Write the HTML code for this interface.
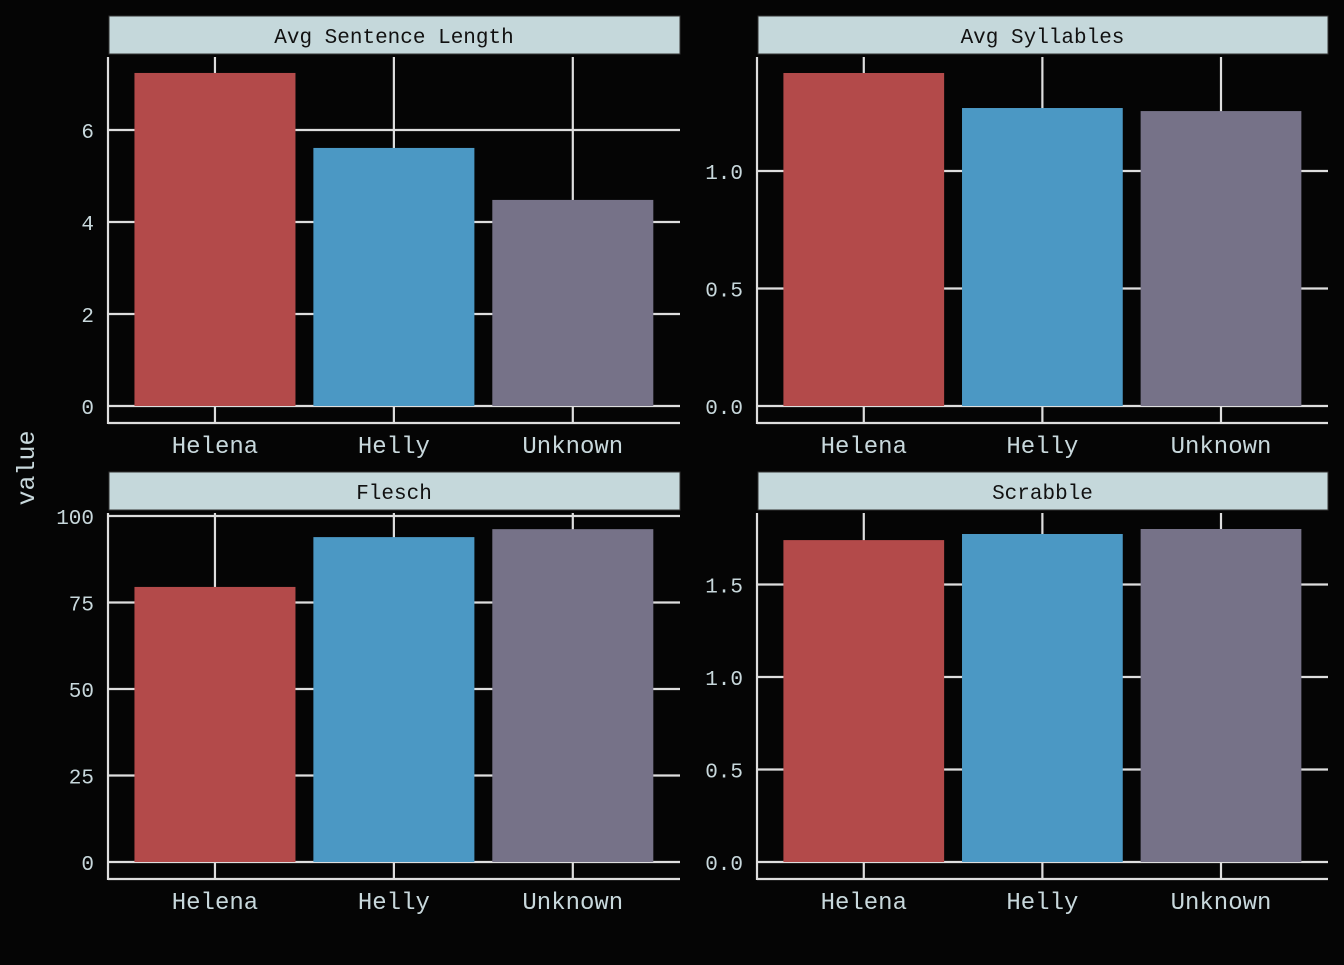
<!DOCTYPE html>
<html><head><meta charset="utf-8"><style>
html,body{margin:0;padding:0;background:#050505;}
svg text{font-family:"Liberation Mono",monospace;}
</style></head><body>
<svg id="c" width="1344" height="960" xmlns="http://www.w3.org/2000/svg">
<rect width="1344" height="960" fill="#050505"/>
<text x="34" y="468" transform="rotate(-90 34 468)" text-anchor="middle" font-size="25" fill="#c8d8dc">value</text>
</svg>
<script>
const categories = ["Helena","Helly","Unknown"];
const panelTitles = ["Avg Sentence Length","Avg Syllables","Flesch","Scrabble"];
const sentenceValues = [7.24, 5.61, 4.48];
const syllableValues = [1.417, 1.268, 1.255];
const fleschValues = [79.5, 93.9, 96.2];
const scrabbleValues = [1.74, 1.773, 1.80];
const sentenceTicks = [0,2,4,6];
const syllableTicks = ["0.0","0.5","1.0"];
const fleschTicks = [0,25,50,75,100];
const scrabbleTicks = ["0.0","0.5","1.0","1.5"];
const colors = ["#b34a4a","#4b98c4","#767288"];

const svg = document.getElementById('c');
const NS = "http://www.w3.org/2000/svg";
function mk(tag, attrs, parent){
  const e = document.createElementNS(NS, tag);
  for (const k in attrs) e.setAttribute(k, attrs[k]);
  (parent||svg).appendChild(e); return e;
}
const panels = [
  {x0:108,x1:680,top:16,zero:406,vmax:7.95,unit:46,vals:sentenceValues,ticks:sentenceTicks,name:'avg-sentence-length'},
  {x0:757,x1:1328,top:16,zero:406,vmax:1.49,unit:235,vals:syllableValues,ticks:syllableTicks,name:'avg-syllables'},
  {x0:108,x1:680,top:472,zero:862,vmax:100.5,unit:3.46,vals:fleschValues,ticks:fleschTicks,name:'flesch'},
  {x0:757,x1:1328,top:472,zero:862,vmax:1.89,unit:185,vals:scrabbleValues,ticks:scrabbleTicks,name:'scrabble'}
];
panels.forEach((p,i)=>{
  const g = mk('g',{});
  
  
  const plotTop = p.top+41, axisY = p.zero+17;
  const y = v => p.zero - v*p.unit;
  const bw = (p.x1-p.x0)/3.2;
  const xc = k => p.x0 + bw*0.6 + bw*1.0*k + bw*0.5 - (k?0:0);
  // scale: centers at x0+107, +286, +465 for width 572
  const W = p.x1-p.x0;
  const cx = k => p.x0 + W*(0.187 + 0.3128*k);
  const barW = W*0.2815;
  // strip
  const s = mk('rect',{x:p.x0+1,y:p.top,width:W-1,height:38,fill:'#c5d8db',stroke:'#333',"stroke-width":1},g);
  
  
  const st = mk('text',{x:p.x0+W/2,y:p.top+27,"text-anchor":"middle","font-size":21,fill:'#111'},g);
  st.textContent = panelTitles[i];
  
  
  // grid horizontal + ticks
  p.ticks.forEach(t=>{
    const yy = y(parseFloat(t));
    mk('line',{x1:p.x0,x2:p.x1,y1:yy,y2:yy,stroke:'#dedede',"stroke-width":2.2},g);
    const tl = mk('text',{x:p.x0-14,y:yy+8,"text-anchor":"end","font-size":21,fill:'#c8d8dc'},g);
    tl.textContent = t;
    
    
  });
  // vertical grid
  categories.forEach((c,k)=>{
    mk('line',{x1:cx(k),x2:cx(k),y1:plotTop,y2:axisY,stroke:'#dedede',"stroke-width":2.2},g);
  });
  // bars
  p.vals.forEach((v,k)=>{
    const b = mk('rect',{x:cx(k)-barW/2,y:y(v),width:barW,height:p.zero-y(v),fill:colors[k]},g);
    
    
  });
  // axes
  mk('line',{x1:p.x0,x2:p.x0,y1:plotTop,y2:axisY+1,stroke:'#dedede',"stroke-width":2.2},g);
  mk('line',{x1:p.x0,x2:p.x1,y1:axisY,y2:axisY,stroke:'#dedede',"stroke-width":2.2},g);
  categories.forEach((c,k)=>{
    const xl = mk('text',{x:cx(k),y:axisY+30,"text-anchor":"middle","font-size":24,fill:'#c8d8dc'},g);
    xl.textContent = c;
    
    
  });
});
</script>
</body></html>
